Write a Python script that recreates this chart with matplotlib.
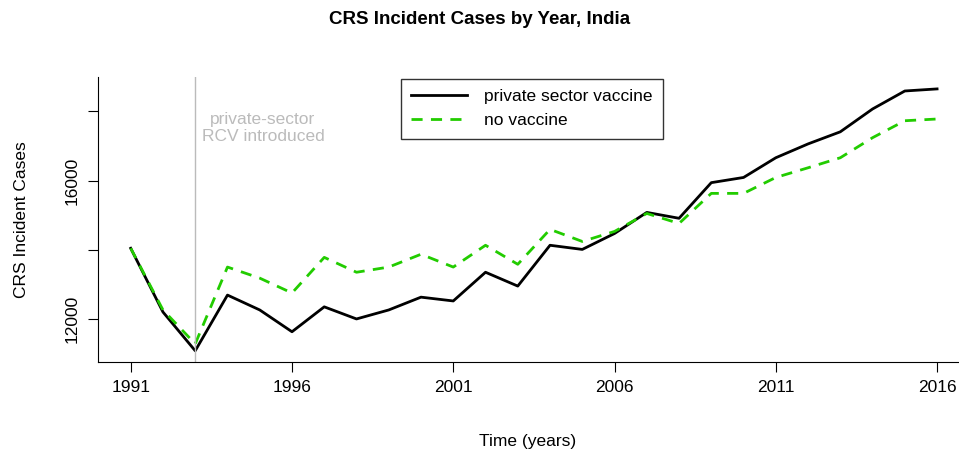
import matplotlib
matplotlib.use("Agg")
import matplotlib.pyplot as plt

years = list(range(1991, 2017))
private = [14043, 12200, 11080, 12690, 12260, 11630, 12350, 12000, 12260, 12630,
           12520, 13350, 12950, 14130, 14010, 14470, 15080, 14910, 15940, 16090,
           16660, 17060, 17410, 18070, 18590, 18650]
novacc = [14043, 12260, 11280, 13500, 13180, 12750, 13780, 13350, 13500, 13870,
          13500, 14130, 13580, 14590, 14240, 14530, 15050, 14760, 15630, 15630,
          16090, 16370, 16660, 17240, 17730, 17780]

plt.rcParams['font.family'] = ['Liberation Sans', 'DejaVu Sans']
fig = plt.figure(figsize=(9.59, 4.53), dpi=100)
ax = fig.add_axes([0.102, 0.201, 0.897, 0.629])

ax.plot(years, private, color='black', lw=2, label='private sector vaccine')
ax.plot(years, novacc, color='#22cc00', lw=2, ls=(0, (4, 3)), label='no vaccine')
ax.axvline(1993, color='#bbbbbb', lw=1)
ax.text(1995.1, 17520, 'private-sector\nRCV introduced', color='#bbbbbb',
        ha='center', va='center', fontsize=12.5, linespacing=1.15)

ax.set_xlim(1989.98, 2016.65)
ax.set_ylim(10757, 18994)
ax.set_xticks([1991, 1996, 2001, 2006, 2011, 2016])
ax.set_yticks([12000, 14000, 16000, 18000])
ax.set_yticklabels(['12000', '', '16000', ''], rotation=90, va='center')
ax.tick_params(labelsize=12.5, length=7, pad=6)
for s in ['top', 'right']:
    ax.spines[s].set_visible(False)
ax.set_xlabel('Time (years)', fontsize=12.5, labelpad=28)
ax.set_ylabel('CRS Incident Cases', fontsize=12.5, labelpad=26)
fig.suptitle('CRS Incident Cases by Year, India', fontsize=13.5, fontweight='bold', y=0.975)

leg = ax.legend(loc='upper left', bbox_to_anchor=(0.35, 1.0), fontsize=12.5,
                fancybox=False, edgecolor='black', handlelength=3.2, borderpad=0.6,
                borderaxespad=0.1, handletextpad=1.0)
leg.get_frame().set_linewidth(1)

fig.savefig('out.png', dpi=100)
